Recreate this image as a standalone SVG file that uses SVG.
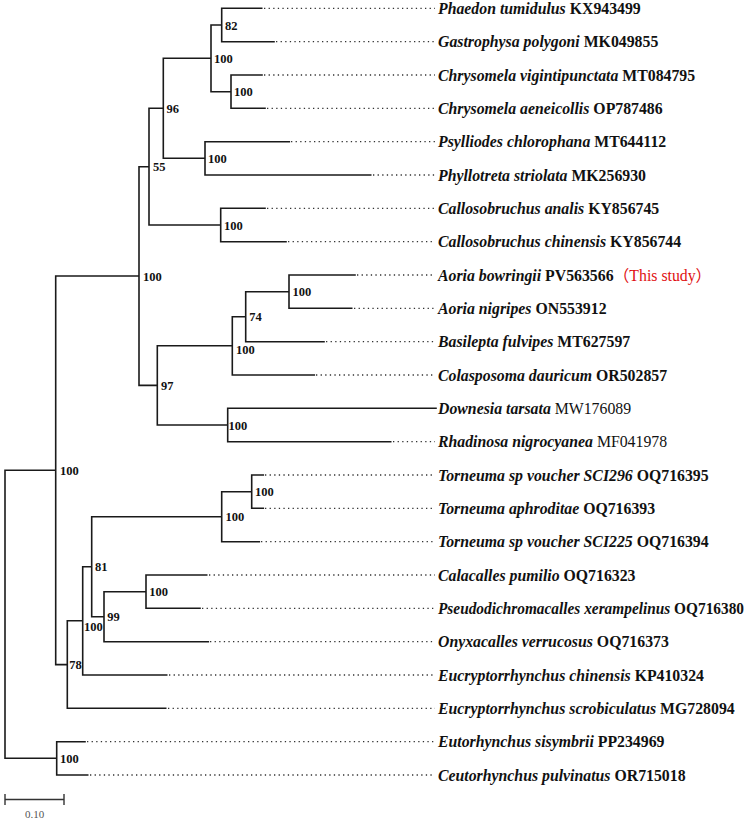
<svg xmlns="http://www.w3.org/2000/svg" width="750" height="821" viewBox="0 0 750 821">
<style>
.br{fill:none;stroke:#1a1a1a;stroke-width:1.6;stroke-linecap:square}
.dot{fill:none;stroke:#333;stroke-width:1.3;stroke-dasharray:1.3 3.3}
.lab{font-family:"Liberation Serif","Times New Roman",serif;font-size:15.8px;font-weight:bold;fill:#111}
.sp{font-style:italic}
.rg{font-weight:normal}
.bs{font-family:"Liberation Serif","Times New Roman",serif;font-size:12.5px;font-weight:bold;fill:#111}
.red{fill:#e01010;font-weight:normal}
</style>
<rect width="750" height="821" fill="#fff"/>
<g id="connectors">
<path class="br" d="
M221.7,8.3V41.7 M221.7,8.3H261.7 M221.7,41.7H274
M231,75V108.3 M231,75H262 M231,108.3H265
M211,25V91.7 M211,25H221.7 M211,91.7H231
M205,141.7V175 M205,141.7H289.3 M205,175H370.7
M163.3,58.3V158.3 M163.3,58.3H211 M163.3,158.3H205
M220.7,208.3V241.7 M220.7,208.3H265 M220.7,241.7H286
M149,108.3V225 M149,108.3H163.3 M149,225H220.7
M289,275V308.3 M289,275H355 M289,308.3H351.7
M245.7,291.7V341.7 M245.7,291.7H289 M245.7,341.7H324
M232.3,316.7V375 M232.3,316.7H245.7 M232.3,375H314.3
M227.7,408.3V441.7 M227.7,408.3H436 M227.7,441.7H390.7
M157.3,345.8V425 M157.3,345.8H232.3 M157.3,425H227.7
M139,166.7V385.4 M139,166.7H149 M139,385.4H157.3
M251.7,475V508.3 M251.7,475H263.3 M251.7,508.3H263.3
M221.7,491.7V541.7 M221.7,491.7H251.7 M221.7,541.7H259.3
M146,575V608.3 M146,575H206.7 M146,608.3H200
M104,591.7V641.7 M104,591.7H146 M104,641.7H208.3
M91.7,516.7V616.7 M91.7,516.7H221.7 M91.7,616.7H104
M82.7,566.7V675 M82.7,566.7H91.7 M82.7,675H166.7
M67.3,620.8V708.3 M67.3,620.8H82.7 M67.3,708.3H165.7
M55.7,276V664.6 M55.7,276H139 M55.7,664.6H67.3
M56.7,741.7V775 M56.7,741.7H85 M56.7,775H87.7
M5,470.3V758.3 M5,470.3H55.7 M5,758.3H56.7
"/>
<path class="dot" d="
M264,8.3H435 M276,41.7H435 M264,75H435 M267,108.3H435
M291,141.7H435 M373,175H435 M267,208.3H435 M288,241.7H435
M357,275H435 M354,308.3H435 M326,341.7H435 M316,375H435
M393,441.7H435 M265,475H435 M265,508.3H435 M261,541.7H435
M209,575H435 M202,608.3H435 M210,641.7H435 M169,675H435
M168,708.3H435 M87,741.7H435 M90,775H435
"/>
</g>
<g id="support">
<text class="bs" x="225" y="30">82</text>
<text class="bs" x="214" y="63">100</text>
<text class="bs" x="234" y="96">100</text>
<text class="bs" x="166.5" y="113">96</text>
<text class="bs" x="208" y="163">100</text>
<text class="bs" x="153" y="171">55</text>
<text class="bs" x="224" y="229.5">100</text>
<text class="bs" x="143" y="281">100</text>
<text class="bs" x="292.5" y="296">100</text>
<text class="bs" x="249.3" y="321">74</text>
<text class="bs" x="236" y="354">100</text>
<text class="bs" x="161" y="389.5">97</text>
<text class="bs" x="228.5" y="429.5">100</text>
<text class="bs" x="60" y="474.5">100</text>
<text class="bs" x="255" y="496">100</text>
<text class="bs" x="225.5" y="521">100</text>
<text class="bs" x="95" y="571">81</text>
<text class="bs" x="149.3" y="596">100</text>
<text class="bs" x="107.3" y="621">99</text>
<text class="bs" x="84" y="631">100</text>
<text class="bs" x="69.3" y="669">78</text>
<text class="bs" x="60" y="763">100</text>
</g>
<g id="leaf-0"><text class="lab" x="438" y="13.8"><tspan class="sp">Phaedon tumidulus</tspan> KX943499</text></g>
<g id="leaf-1"><text class="lab" x="438" y="47.2"><tspan class="sp">Gastrophysa polygoni</tspan> MK049855</text></g>
<g id="leaf-2"><text class="lab" x="438" y="80.5"><tspan class="sp">Chrysomela vigintipunctata</tspan> MT084795</text></g>
<g id="leaf-3"><text class="lab" x="438" y="113.8"><tspan class="sp">Chrysomela aeneicollis</tspan> OP787486</text></g>
<g id="leaf-4"><text class="lab" x="438" y="147.2"><tspan class="sp">Psylliodes chlorophana</tspan> MT644112</text></g>
<g id="leaf-5"><text class="lab" x="438" y="180.5"><tspan class="sp">Phyllotreta striolata</tspan> MK256930</text></g>
<g id="leaf-6"><text class="lab" x="438" y="213.8"><tspan class="sp">Callosobruchus analis</tspan> KY856745</text></g>
<g id="leaf-7"><text class="lab" x="438" y="247.2"><tspan class="sp">Callosobruchus chinensis</tspan> KY856744</text></g>
<g id="leaf-8"><text class="lab" x="438" y="280.5"><tspan class="sp">Aoria bowringii</tspan> PV563566<tspan class="red" font-family="'Liberation Serif','Noto Sans CJK SC',serif">（This study）</tspan></text></g>
<g id="leaf-9"><text class="lab" x="438" y="313.8"><tspan class="sp">Aoria nigripes</tspan> ON553912</text></g>
<g id="leaf-10"><text class="lab" x="438" y="347.2"><tspan class="sp">Basilepta fulvipes</tspan> MT627597</text></g>
<g id="leaf-11"><text class="lab" x="438" y="380.5"><tspan class="sp">Colasposoma dauricum</tspan> OR502857</text></g>
<g id="leaf-12"><text class="lab" x="438" y="413.8"><tspan class="sp">Downesia tarsata</tspan> <tspan class="rg">MW176089</tspan></text></g>
<g id="leaf-13"><text class="lab" x="438" y="447.2"><tspan class="sp">Rhadinosa nigrocyanea</tspan> <tspan class="rg">MF041978</tspan></text></g>
<g id="leaf-14"><text class="lab" x="438" y="480.5"><tspan class="sp">Torneuma sp voucher SCI296</tspan> OQ716395</text></g>
<g id="leaf-15"><text class="lab" x="438" y="513.8"><tspan class="sp">Torneuma aphroditae</tspan> OQ716393</text></g>
<g id="leaf-16"><text class="lab" x="438" y="547.2"><tspan class="sp">Torneuma sp voucher  SCI225</tspan> OQ716394</text></g>
<g id="leaf-17"><text class="lab" x="438" y="580.5"><tspan class="sp">Calacalles pumilio</tspan> OQ716323</text></g>
<g id="leaf-18"><text class="lab" x="438" y="613.8" textLength="306" lengthAdjust="spacingAndGlyphs"><tspan class="sp">Pseudodichromacalles xerampelinus</tspan> OQ716380</text></g>
<g id="leaf-19"><text class="lab" x="438" y="647.2"><tspan class="sp">Onyxacalles verrucosus</tspan> OQ716373</text></g>
<g id="leaf-20"><text class="lab" x="438" y="680.5"><tspan class="sp">Eucryptorrhynchus chinensis</tspan> KP410324</text></g>
<g id="leaf-21"><text class="lab" x="438" y="713.8"><tspan class="sp">Eucryptorrhynchus scrobiculatus</tspan> MG728094</text></g>
<g id="leaf-22"><text class="lab" x="438" y="747.2"><tspan class="sp">Eutorhynchus sisymbrii</tspan> PP234969</text></g>
<g id="leaf-23"><text class="lab" x="438" y="780.5"><tspan class="sp">Ceutorhynchus pulvinatus</tspan> OR715018</text></g>
<g id="scale">
<path d="M5,799.5H64 M5,794V805 M64,794V805" fill="none" stroke="#333" stroke-width="1.4"/>
<text x="34.5" y="818" text-anchor="middle" font-family="'Liberation Serif','Times New Roman',serif" font-size="11px" fill="#555">0.10</text>
</g>
</svg>
